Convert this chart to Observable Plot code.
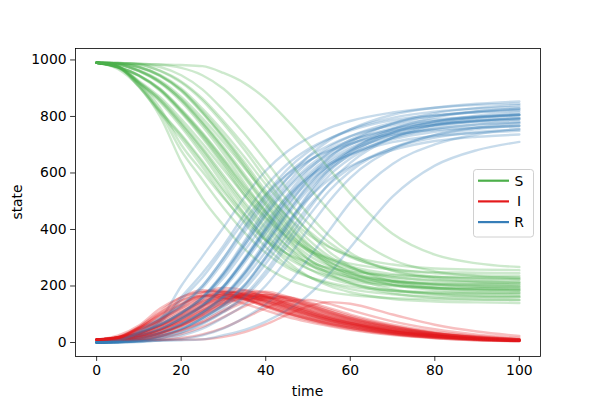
<!DOCTYPE html>
<html><head><meta charset="utf-8">
<script src="https://cdn.jsdelivr.net/npm/d3@7"></script>
<script src="https://cdn.jsdelivr.net/npm/@observablehq/plot@0.6"></script>
<style>
body{margin:0;background:#fff}
#chart{width:600px;height:400px;position:relative}
svg text{font-family:"DejaVu Sans",sans-serif}
</style>
</head><body><div id="chart"></div>
<script>
// time points at which trajectories were read
const times = [0,5,10,15,20,25,30,35,40,45,50,55,60,70,80,90,100];

// Susceptible, one array per simulated run
const S = [
 [990,968,905,800,640,511,415,331,267,225,198,179,168,157,153,151,150],
 [990,972,915,815,679,577,477,389,317,266,233,212,198,183,178,176,175],
 [990,974,920,830,700,605,512,430,362,315,284,264,251,238,233,231,230],
 [990,975,905,812,722,622,517,422,338,275,234,207,189,171,163,161,160],
 [990,976,910,821,736,642,543,453,374,314,275,250,232,215,208,206,205],
 [990,975,917,851,763,665,559,455,364,288,235,200,178,154,145,142,140],
 [990,977,921,859,776,684,584,487,400,329,280,247,226,204,195,192,190],
 [990,978,926,868,791,705,612,521,441,375,328,298,279,258,249,247,245],
 [990,975,945,895,820,735,640,540,450,370,310,270,245,217,206,202,200],
 [990,974,943,891,813,724,625,520,426,342,280,238,212,183,172,167,165],
 [990,975,946,898,826,743,651,554,467,389,331,293,269,242,231,227,225],
 [990,984,961,921,858,775,682,582,484,397,325,275,242,208,193,188,186],
 [990,985,964,927,869,794,709,617,528,448,383,337,307,276,262,258,256],
 [990,984,960,918,852,766,669,564,462,371,296,244,210,174,158,153,151],
 [990,988,975,945,895,819,733,638,537,446,366,305,266,223,205,198,196],
 [990,988,976,947,899,828,746,656,560,474,397,340,302,261,245,238,236],
 [990,989,984,961,920,857,774,681,579,481,393,321,271,216,194,185,182],
 [990,989,987,975,946,896,822,738,644,545,456,378,318,254,227,216,212],
 [990,988,986,983,972,946,898,826,743,651,554,467,389,293,252,235,228],
 [990,988,986,984,982,978,954,918,862,788,705,615,527,385,311,280,267],
 [990,975,944,893,817,730,633,531,439,358,297,257,231,203,191,187,185],
 [990,985,962,923,862,782,692,595,499,415,346,297,265,232,218,213,211],
 [990,977,919,856,771,677,574,474,386,313,262,228,207,184,175,172,170],
 [990,988,974,943,890,812,722,622,517,422,338,275,234,189,171,163,161],
 [990,976,908,818,732,636,534,443,362,301,261,236,218,200,193,191,190],
 [990,975,946,897,823,740,647,548,460,382,323,284,259,232,221,217,215],
 [990,984,961,922,860,778,686,587,490,404,333,284,251,217,203,198,196],
 [990,988,975,944,892,815,727,629,525,433,350,288,248,204,186,178,176],
 [990,989,985,962,924,864,784,696,600,506,423,354,306,255,233,225,222],
 [990,977,922,861,780,690,592,496,411,342,293,261,240,218,210,207,205]
];

// Infected
const I = [
 [10,24,60,120,160,185,178,154,125,100,79,62,48,29,16,8,5],
 [10,20,55,110,160,178,180,157,130,104,83,66,52,30,17,10,5],
 [10,18,50,100,148,165,158,137,114,91,73,58,45,26,15,8,5],
 [10,18,55,105,149,179,185,167,141,114,91,73,57,34,20,11,6],
 [10,17,52,97,138,166,171,155,131,106,85,67,53,32,18,10,6],
 [10,18,51,86,132,174,193,185,161,133,107,85,68,40,24,13,7],
 [10,16,46,79,121,159,176,169,147,122,98,78,62,37,22,12,6],
 [10,15,42,71,109,143,160,153,133,110,88,70,56,33,20,11,6],
 [10,18,32,58,95,135,163,168,152,128,104,83,66,40,24,13,7],
 [10,19,35,63,103,146,176,181,164,138,112,90,71,43,26,14,8],
 [10,17,31,56,92,131,158,163,147,124,101,81,64,39,23,13,7],
 [10,13,25,45,77,118,156,173,166,144,119,96,76,47,28,15,9],
 [10,12,22,41,70,107,140,156,150,130,108,86,69,43,25,14,8],
 [10,14,26,48,83,127,166,185,177,154,128,102,81,51,30,17,9],
 [10,11,18,32,58,95,135,163,168,152,128,104,83,52,31,18,10],
 [10,11,17,31,56,91,130,156,161,146,123,100,80,50,30,17,10],
 [10,10,13,24,44,75,115,151,168,161,140,116,93,59,35,21,12],
 [10,10,11,17,30,55,90,128,155,160,144,122,99,63,38,23,12],
 [10,9,9,10,16,29,52,86,122,147,151,137,115,75,47,28,16],
 [10,9,8,9,10,11,20,37,64,98,128,143,137,99,63,39,23],
 [10,19,33,60,99,140,170,175,158,133,108,86,69,42,25,14,7],
 [10,13,24,43,74,113,148,165,158,137,114,91,73,45,26,15,8],
 [10,17,48,81,124,163,181,174,151,125,100,80,64,38,23,12,6],
 [10,11,19,34,62,102,144,174,180,163,137,111,89,56,33,19,11],
 [10,17,50,95,135,163,168,152,128,104,83,66,52,31,18,10,5],
 [10,17,30,55,89,127,153,158,143,120,98,78,62,38,23,12,7],
 [10,13,24,44,75,115,151,168,161,140,116,93,74,46,27,15,9],
 [10,11,19,33,60,98,139,168,173,157,132,107,85,54,32,19,10],
 [10,10,12,23,42,71,109,143,160,153,133,110,88,56,33,20,11],
 [10,16,44,75,115,151,168,161,140,116,93,74,59,35,21,12,6]
];

// Recovered
const R = [
 [0,8,35,80,200,304,407,515,608,675,723,759,784,814,831,841,845],
 [0,8,30,75,161,245,343,454,553,630,684,722,750,787,805,814,820],
 [0,8,30,70,152,230,330,433,524,594,643,678,704,736,752,761,765],
 [0,7,40,83,129,199,298,411,521,611,675,720,754,795,817,828,834],
 [0,7,38,82,126,192,286,392,495,580,640,683,715,753,774,784,789],
 [0,7,32,63,105,161,248,360,475,579,658,715,754,806,831,845,853],
 [0,7,33,62,103,157,240,344,453,549,622,675,712,759,783,796,804],
 [0,7,32,61,100,152,228,326,426,515,584,632,665,709,731,742,749],
 [0,7,23,47,85,130,197,292,398,502,586,647,689,743,770,785,793],
 [0,7,22,46,84,130,199,299,410,520,608,672,717,774,802,819,827],
 [0,8,23,46,82,126,191,283,386,487,568,626,667,719,746,760,768],
 [0,3,14,34,65,107,162,245,350,459,556,629,682,745,779,797,805],
 [0,3,14,32,61,99,151,227,322,422,509,577,624,681,713,728,736],
 [0,2,14,34,65,107,165,251,361,475,576,654,709,775,812,830,840],
 [0,1,7,23,47,86,132,199,295,402,506,591,651,725,764,784,794],
 [0,1,7,22,45,81,124,188,279,380,480,560,618,689,725,745,754],
 [0,1,3,15,36,68,111,168,253,358,467,563,636,725,771,794,806],
 [0,1,2,8,24,49,88,134,201,295,400,500,583,683,735,761,776],
 [0,3,5,7,12,25,50,88,135,202,295,396,496,632,701,737,756],
 [0,3,6,7,8,11,26,45,74,114,167,242,336,516,626,681,710],
 [0,6,23,47,84,130,197,294,403,509,595,657,700,755,784,799,808],
 [0,2,14,34,64,105,160,240,343,448,540,612,662,723,756,772,781],
 [0,6,33,63,105,160,245,352,463,562,638,692,729,778,802,816,824],
 [0,1,7,23,48,86,134,204,303,415,525,614,677,755,796,818,828],
 [0,7,42,87,133,201,298,405,510,595,656,698,730,769,789,799,805],
 [0,8,24,48,88,133,200,294,397,498,579,638,679,730,756,771,778],
 [0,3,15,34,65,107,163,245,349,456,551,623,675,737,770,787,795],
 [0,1,6,23,48,87,134,203,302,410,518,605,667,742,782,803,814],
 [0,1,3,15,34,65,107,161,240,341,444,536,606,689,734,755,767],
 [0,7,34,64,105,159,240,343,449,542,614,665,701,747,769,781,789]
];

const compartments = ["S","I","R"];
const colors = ["#4daf4a","#e41a1c","#377eb8"];
const xTicks = [0,20,40,60,80,100];
const yTicks = [0,200,400,600,800,1000];

const series = {S, I, R};
const rows = [];
S.forEach((_, k) => {
  compartments.forEach(c => {
    series[c][k].forEach((v, i) => rows.push({run: k, comp: c, key: c + k, t: times[i], v}));
  });
});

const W = 600, H = 400, mL = 75, mR = 60, mT = 48, mB = 44;
const chart = Plot.plot({
  width: W, height: H, marginLeft: mL, marginRight: mR, marginTop: mT, marginBottom: mB,
  style: {fontFamily: "DejaVu Sans", fontSize: "13.9px", background: "white", color: "black", overflow: "visible"},
  x: {domain: [-5, 105], ticks: xTicks, tickFormat: "d", label: null, tickSize: 4.9, tickPadding: 4},
  y: {domain: [-49.5, 1040.5], ticks: yTicks, tickFormat: "d", label: null, tickSize: 4.9, tickPadding: 4},
  color: {domain: compartments, range: colors},
  marks: [
    Plot.line(rows, {x: "t", y: "v", z: "key", stroke: "comp", strokeOpacity: 0.28, strokeWidth: 2.4, curve: "monotone-x"}),
    Plot.frame({stroke: "black", strokeWidth: 0.8})
  ]
});
document.getElementById("chart").appendChild(chart);

const svg = d3.select(chart);
svg.selectAll("g[aria-label='x-axis tick'] path, g[aria-label='y-axis tick'] path").attr("stroke-width", 0.8);

// axis labels
svg.append("text").attr("x", (mL + W - mR) / 2).attr("y", 395.5)
  .attr("text-anchor", "middle").attr("font-size", "13.9px").attr("fill", "black").text("time");
svg.append("text").attr("transform", "translate(22,202) rotate(-90)")
  .attr("text-anchor", "middle").attr("font-size", "13.9px").attr("fill", "black").text("state");

// legend
const lg = svg.append("g");
lg.append("rect").attr("x", 473.5).attr("y", 169.5).attr("width", 60).attr("height", 67.5)
  .attr("rx", 2.8).attr("fill", "white").attr("fill-opacity", 0.8).attr("stroke", "#d0d0d0").attr("stroke-width", 1);
compartments.forEach((c, i) => {
  const y = 180.7 + i * 20.7;
  lg.append("line").attr("x1", 478).attr("x2", 509).attr("y1", y).attr("y2", y)
    .attr("stroke", colors[i]).attr("stroke-width", 2.2);
  lg.append("text").attr("x", 519).attr("y", y + 5).attr("font-size", "13.9px").attr("fill", "black").text(c);
});
</script>
</body></html>
